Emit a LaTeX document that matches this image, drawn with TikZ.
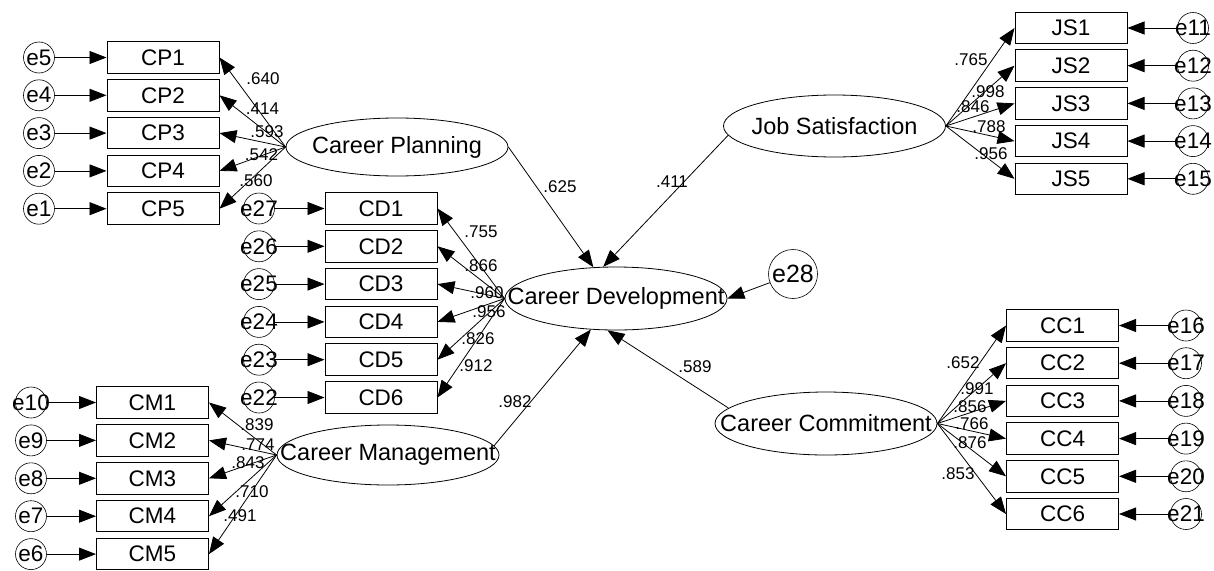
\documentclass[tikz,border=0pt]{standalone}
\usepackage{fontspec}
\setmainfont{Liberation Sans}
\usetikzlibrary{arrows.meta,shapes.geometric}
\newcommand\elab[1]{\makebox[0pt]{#1}}
\begin{document}
\begin{tikzpicture}[x=1pt,y=-1pt,
 obs/.style={draw, line width=1pt, minimum width=112pt, minimum height=31.5pt, inner sep=0pt, font=\fontsize{22.5}{24}\selectfont},
 lat/.style={draw, ellipse, line width=0.8pt, minimum width=222pt, minimum height=62pt, inner sep=0pt, font=\fontsize{23.5}{25}\selectfont},
 err/.style={draw, circle, line width=0.6pt, minimum size=31pt, inner sep=0pt, font=\fontsize{22.5}{24}\selectfont},
 arr/.style={line width=0.8pt, -{Triangle[length=17pt,width=13pt]}},
 num/.style={inner sep=0pt, font=\fontsize{17}{18}\selectfont}]
\useasboundingbox (0,0) rectangle (1214,570);
\fill[white] (0,0) rectangle (1214,570);

% latent variables
\node[lat, minimum height=58pt] (CP) at (397,147) {\elab{Career Planning}};
\node[lat, minimum height=63pt] (CD) at (616,298.5) {\elab{Career Development}};
\node[lat, minimum height=60pt] (CM) at (388,455) {\elab{Career Management}};
\node[lat] (JS) at (834.5,126) {\elab{Job Satisfaction}};
\node[lat, minimum height=63pt] (CC) at (826,423.5) {\elab{Career Commitment}};
\node[err, minimum size=49pt, font=\fontsize{25}{27}\selectfont] (e28) at (793,274) {\elab{e28}};

% Career Planning block
\foreach \i/\e in {1/5,2/4,3/3,4/2,5/1} {
  \node[obs] (CP\i) at (163,{57.5+37.8*(\i-1)}) {CP\i};
  \node[err] (e\e) at (39,{57.5+37.8*(\i-1)}) {\elab{e\e}};
  \draw[arr] (e\e) -- (CP\i);
  \draw[arr] (CP.west) -- (CP\i.east);
}
% Career Development block
\foreach \i/\e in {1/27,2/26,3/25,4/24,5/23,6/22} {
  \node[obs] (CD\i) at (381,{208.5+37.8*(\i-1)}) {CD\i};
  \node[err] (e\e) at (259,{208.5+37.8*(\i-1)}) {\elab{e\e}};
  \draw[arr] (e\e) -- (CD\i);
  \draw[arr] (CD.west) -- (CD\i.east);
}
% Career Management block
\foreach \i/\e in {1/10,2/9,3/8,4/7,5/6} {
  \node[obs] (CM\i) at (152.5,{402.5+37.9*(\i-1)}) {CM\i};
  \node[err] (e\e) at (31,{402.5+37.9*(\i-1)}) {\elab{e\e}};
  \draw[arr] (e\e) -- (CM\i);
  \draw[arr] (CM.west) -- (CM\i.east);
}
% Job Satisfaction block
\foreach \i/\e in {1/11,2/12,3/13,4/14,5/15} {
  \node[obs] (JS\i) at (1071,{28+37.7*(\i-1)}) {JS\i};
  \node[err] (e\e) at (1193,{28+37.7*(\i-1)}) {\elab{e\e}};
  \draw[arr] (e\e) -- (JS\i);
  \draw[arr] (JS.east) -- (JS\i.west);
}
% Career Commitment block
\foreach \i/\e in {1/16,2/17,3/18,4/19,5/20,6/21} {
  \node[obs] (CC\i) at (1062.5,{325.5+37.7*(\i-1)}) {CC\i};
  \node[err] (e\e) at (1186,{325.5+37.7*(\i-1)}) {\elab{e\e}};
  \draw[arr] (e\e) -- (CC\i);
  \draw[arr] (CC.east) -- (CC\i.west);
}

% structural paths
\draw[arr] (CP.east) -- (CD.126);
\draw[arr] (JS.185) -- (CD.112);
\draw[arr] (CM.5) -- (CD.231);
\draw[arr] (CC.171) -- (CD.255);
\draw[arr] (e28) -- (CD.east);

% coefficients
\node[num] (n1) at (263,79) {.640};
\node[num] (n2) at (262.5,109) {.414};
\node[num] (n3) at (267,132) {.593};
\node[num] (n4) at (261.5,155) {.542};
\node[num] (n5) at (256,181) {.560};

\node[num] (n6) at (481,232) {.755};
\node[num] (n7) at (481,266) {.866};
\node[num] (n8) at (487,293) {.960};
\node[num] (n9) at (489,312) {.956};
\node[num] (n10) at (478,339) {.826};
\node[num] (n11) at (476,366) {.912};

\node[num] (n12) at (257,425) {.839};
\node[num] (n13) at (258,445) {.774};
\node[num] (n14) at (248,463) {.843};
\node[num] (n15) at (252,492) {.710};
\node[num] (n16) at (240,516) {.491};

\node[num] (n17) at (971,60) {.765};
\node[num] (n18) at (988,92) {.998};
\node[num] (n19) at (973,107) {.846};
\node[num] (n20) at (989,127) {.788};
\node[num] (n21) at (991,154) {.956};

\node[num] (n22) at (963,363) {.652};
\node[num] (n23) at (977,389) {.991};
\node[num] (n24) at (970,407) {.856};
\node[num] (n25) at (972,424) {.766};
\node[num] (n26) at (970,443) {.876};
\node[num] (n27) at (958,474) {.853};

\node[num] (n28) at (560,187) {.625};
\node[num] (n29) at (672,182) {.411};
\node[num] (n30) at (515,402) {.982};
\node[num] (n31) at (695,367) {.589};
\end{tikzpicture}
\end{document}
